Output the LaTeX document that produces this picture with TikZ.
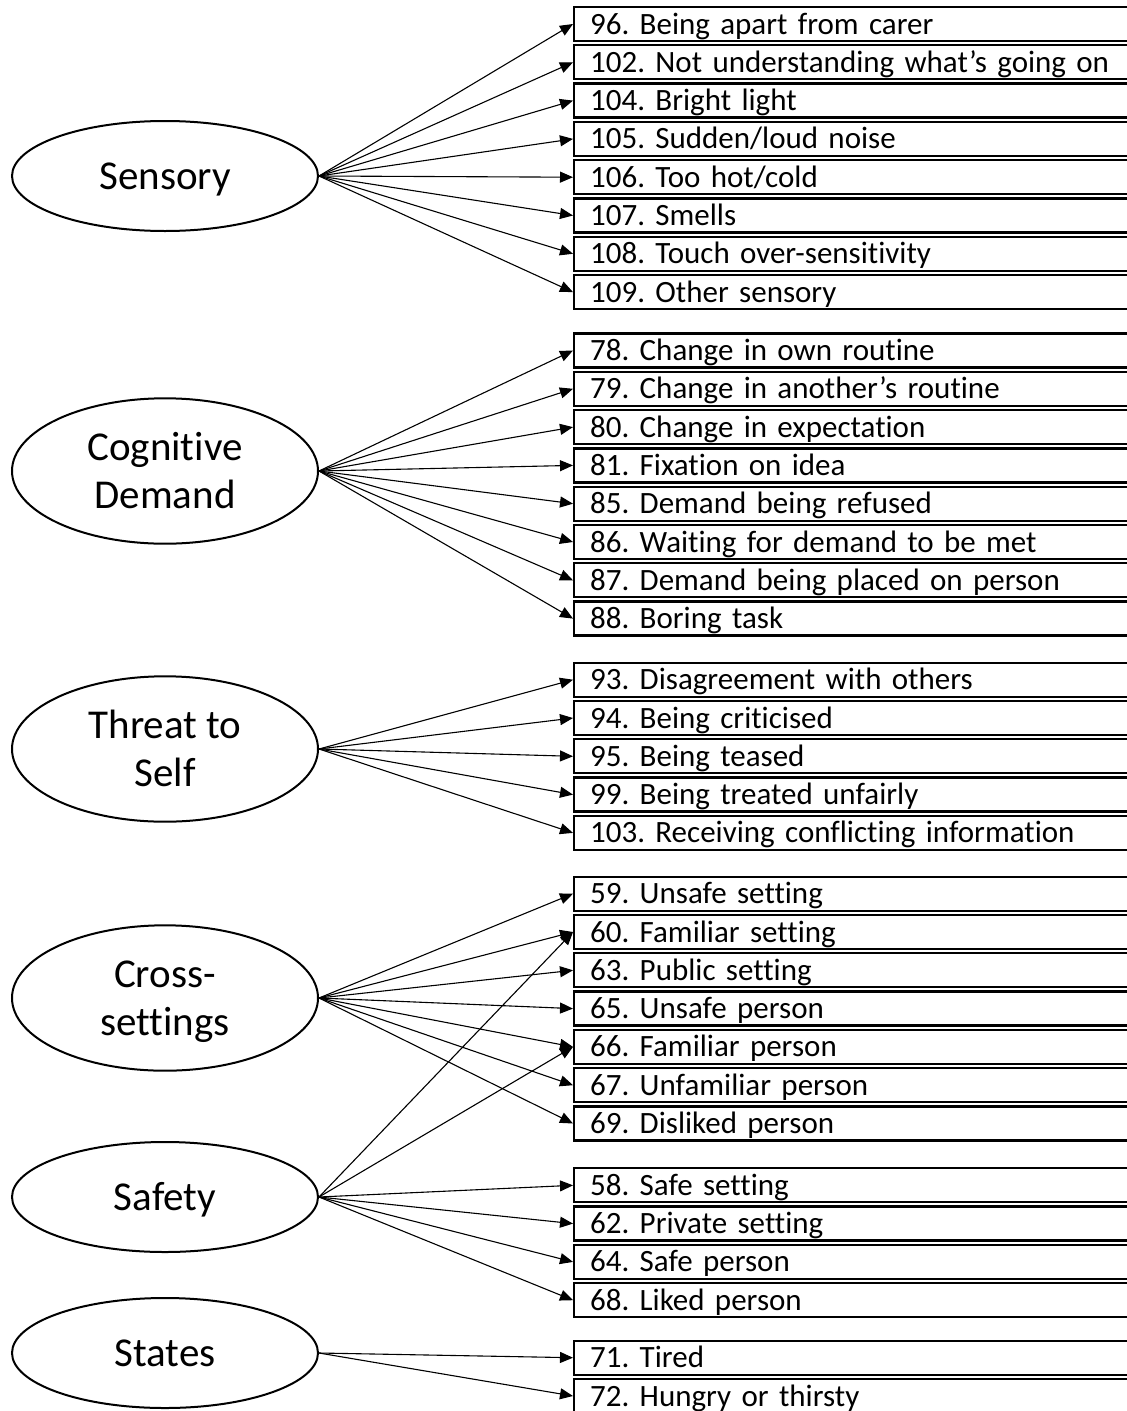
\documentclass[tikz,border=0pt]{standalone}
\usepackage{fontspec}
\setmainfont{Carlito}[Ligatures=CommonOff]
\usetikzlibrary{arrows.meta,shapes.geometric}
\frenchspacing
\newcommand\twoline[2]{\begin{tabular}{@{}c@{}}\rule{0pt}{40.4pt}#1\\#2\end{tabular}}
\begin{document}
\begin{tikzpicture}[x=1pt,y=-1pt,
  latent/.style={ellipse,draw,line width=2pt,minimum width=306pt,minimum height=110pt,
    inner sep=0pt,font=\fontsize{41}{48}\selectfont},
  single/.style={text height=27pt,text depth=1pt},
  item/.style={draw,line width=2.3pt,anchor=west,minimum height=34pt,inner xsep=16pt,
    inner ysep=0pt,text width=548pt,align=left,text height=26pt,text depth=6pt,
    font=\fontsize{31}{37}\selectfont},
  link/.style={-{Triangle[length=13pt,width=11pt]},line width=1.1pt}]
\useasboundingbox (0,0) rectangle (1127,1411);
\clip (0,0) rectangle (1127,1411);
\fill[white] (0,0) rectangle (1127,1411);

\node[latent,single] (sens) at (165,176) {Sensory};
\node[latent] (cog) at (165,471) {\twoline{Cognitive}{Demand}};
\node[latent] (thr) at (165,749) {\twoline{Threat to}{Self}};
\node[latent] (cross) at (165,998) {\twoline{Cross-}{settings}};
\node[latent,single] (safe) at (165,1197) {Safety};
\node[latent,single] (stat) at (165,1353) {States};

\foreach \n/\t [count=\k from 0] in {96/Being apart from carer,
  102/Not understanding what’s going on, 104/Bright light, 105/{Sudden/loud noise},
  106/{Too hot/cold}, 107/Smells, 108/Touch over-sensitivity, 109/Other sensory}
  {\node[item] (i\n) at (573,24+38.3*\k) {\n. \t};
   \draw[link] (sens.east) -- (i\n.west);}

\foreach \n/\t [count=\k from 0] in {78/Change in own routine,
  79/Change in another’s routine, 80/Change in expectation, 81/Fixation on idea,
  85/Demand being refused, 86/Waiting for demand to be met,
  87/Demand being placed on person, 88/Boring task}
  {\node[item] (i\n) at (573,350.5+38.3*\k) {\n. \t};
   \draw[link] (cog.east) -- (i\n.west);}

\foreach \n/\t [count=\k from 0] in {93/Disagreement with others,
  94/Being criticised, 95/Being teased, 99/Being treated unfairly,
  103/Receiving conflicting information}
  {\node[item] (i\n) at (573,679.7+38.3*\k) {\n. \t};
   \draw[link] (thr.east) -- (i\n.west);}

\foreach \n/\t [count=\k from 0] in {59/Unsafe setting, 60/Familiar setting,
  63/Public setting, 65/Unsafe person, 66/Familiar person, 67/Unfamiliar person,
  69/Disliked person}
  {\node[item] (i\n) at (573,893.7+38.3*\k) {\n. \t};
   \draw[link] (cross.east) -- (i\n.west);}

\foreach \n/\t [count=\k from 0] in {58/Safe setting, 62/Private setting,
  64/Safe person, 68/Liked person}
  {\node[item] (i\n) at (573,1185.3+38.3*\k) {\n. \t};
   \draw[link] (safe.east) -- (i\n.west);}
\draw[link] (safe.east) -- (i60.west);
\draw[link] (safe.east) -- (i66.west);

\foreach \n/\t [count=\k from 0] in {71/Tired, 72/Hungry or thirsty}
  {\node[item] (i\n) at (573,1357.7+38.3*\k) {\n. \t};
   \draw[link] (stat.east) -- (i\n.west);}
\end{tikzpicture}
\end{document}
